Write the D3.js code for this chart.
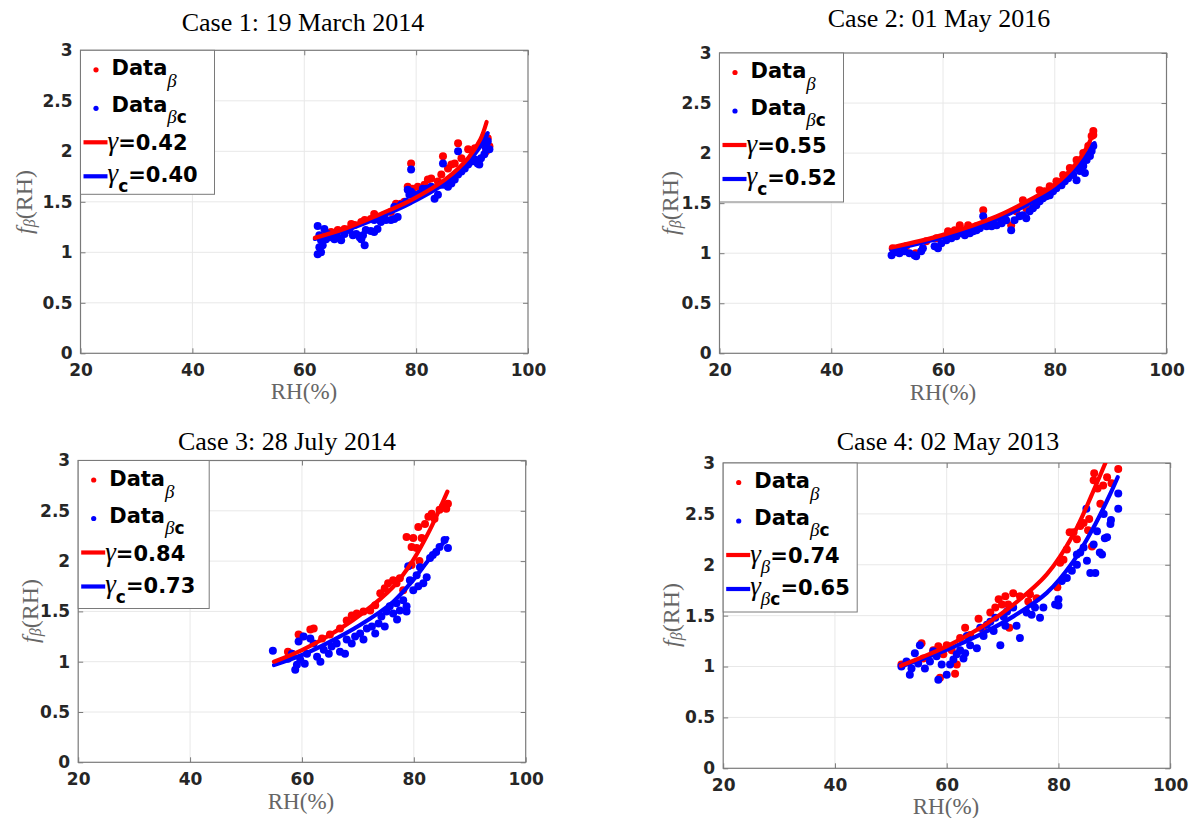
<!DOCTYPE html>
<html><head><meta charset="utf-8">
<script src="https://cdn.jsdelivr.net/npm/d3@7"></script>
<style>body{margin:0;background:#fff} svg{display:block}</style>
</head><body>
<svg id="chart" width="1189" height="818"></svg>
<script>
// ---------------- DATA ----------------
const xTicks=[20,40,60,80,100];
const yTicks=[0,0.5,1,1.5,2,2.5,3];
const yTickLabels=["0","0.5","1","1.5","2","2.5","3"];
const titles=["Case 1: 19 March 2014","Case 2: 01 May 2016","Case 3: 28 July 2014","Case 4: 02 May 2013"];
const gammaRed=["0.42","0.55","0.84","0.74"];
const gammaBlue=["0.40","0.52","0.73","0.65"];
const gammaRedSub=["","","","β"];
const gammaBlueSub=["c","c","c","βc"];

const case1Red=[[63.9,1.18],[64.8,1.2],[65.4,1.18],[66.0,1.22],[67.2,1.23],[68.4,1.28],[69.0,1.27],[70.2,1.3],[70.8,1.32],[71.9,1.33],[72.5,1.38],[73.7,1.35],[74.3,1.37],[75.5,1.4],[76.4,1.48],[77.3,1.48],[77.9,1.5],[78.5,1.65],[79.4,1.63],[80.3,1.65],[81.5,1.67],[82.1,1.72],[82.7,1.73],[83.9,1.7],[84.5,1.77],[85.7,1.83],[86.3,1.87],[86.9,1.88],[88.1,1.93],[89.3,2.02],[90.5,2.03],[91.6,2.07],[92.8,2.13],[93.1,2.05],[92.5,2.0],[79.1,1.88],[84.8,1.95],[87.5,2.08]];
const case1Blue=[[62.4,0.98],[63.0,1.0],[62.7,1.05],[63.3,1.07],[62.4,1.26],[63.6,1.23],[62.7,1.17],[63.0,1.12],[63.6,1.15],[64.2,1.18],[63.9,1.13],[64.8,1.15],[65.4,1.13],[66.0,1.15],[66.6,1.12],[67.2,1.18],[68.1,1.22],[68.7,1.17],[69.3,1.18],[69.9,1.15],[70.5,1.17],[70.8,1.07],[70.2,1.13],[71.0,1.22],[71.9,1.21],[72.5,1.2],[73.1,1.23],[72.5,1.32],[73.7,1.3],[74.6,1.32],[75.5,1.32],[76.1,1.33],[76.7,1.35],[76.1,1.45],[77.3,1.47],[78.2,1.5],[78.8,1.57],[78.5,1.62],[79.1,1.6],[79.7,1.57],[80.6,1.58],[81.2,1.63],[81.8,1.63],[82.7,1.65],[83.3,1.53],[83.9,1.57],[84.5,1.67],[85.1,1.67],[85.7,1.65],[86.3,1.68],[86.9,1.72],[87.5,1.77],[88.1,1.8],[88.7,1.83],[89.3,1.87],[89.9,1.9],[90.5,1.92],[91.0,1.88],[91.3,1.87],[91.6,1.93],[92.2,1.97],[92.5,2.03],[92.8,2.1],[92.2,2.15],[92.5,2.07],[93.1,2.02],[79.1,1.82],[84.8,1.88],[87.5,2.0]];
const case1RedFit=[[61.9,1.143],[67.2,1.233],[73.1,1.367],[79.1,1.517],[85.1,1.717],[89.3,1.933],[91.5,2.12],[92.6,2.29]];
const case1BlueFit=[[61.9,1.133],[67.2,1.215],[73.1,1.34],[79.1,1.49],[85.1,1.683],[89.3,1.9],[91.5,2.05],[92.8,2.18]];

const case2Red=[[51.0,1.05],[53.4,1.07],[55.1,1.0],[57.0,1.12],[58.8,1.15],[60.9,1.22],[62.1,1.23],[63.0,1.28],[64.5,1.28],[66.0,1.27],[67.2,1.43],[68.4,1.32],[70.2,1.35],[72.2,1.28],[73.1,1.42],[74.3,1.53],[74.9,1.45],[76.1,1.5],[77.3,1.63],[78.2,1.62],[79.1,1.67],[80.3,1.72],[81.5,1.78],[82.7,1.85],[83.9,1.93],[85.1,2.0],[86.0,2.07],[86.6,2.17],[86.9,2.22],[86.9,2.18]];
const case2Blue=[[50.8,0.98],[51.3,1.01],[52.2,1.0],[53.1,1.02],[54.0,1.0],[54.9,0.98],[55.2,0.97],[56.1,1.02],[56.4,1.05],[58.5,1.07],[59.1,1.05],[59.7,1.1],[60.6,1.13],[61.5,1.15],[62.4,1.17],[63.0,1.2],[63.9,1.18],[64.8,1.2],[65.4,1.22],[66.0,1.23],[66.6,1.25],[67.2,1.37],[67.8,1.27],[68.7,1.27],[69.6,1.28],[70.5,1.3],[71.3,1.33],[72.2,1.23],[72.8,1.33],[73.7,1.37],[74.3,1.38],[74.9,1.35],[75.5,1.42],[76.1,1.45],[76.7,1.48],[77.3,1.52],[77.9,1.55],[78.5,1.57],[79.1,1.58],[79.7,1.62],[80.3,1.65],[81.2,1.68],[81.8,1.72],[82.4,1.75],[83.3,1.78],[83.9,1.73],[84.5,1.82],[85.1,1.87],[85.4,1.8],[85.7,1.93],[86.3,1.97],[86.6,2.02],[86.9,2.07]];
const case2RedFit=[[50.75,1.057],[60,1.183],[69.55,1.367],[75.52,1.533],[80,1.683],[83.88,1.9],[85.67,2.05],[87.1,2.226]];
const case2BlueFit=[[50.75,1.033],[60,1.16],[69.55,1.333],[75.52,1.5],[80,1.65],[83.88,1.85],[85.67,1.98],[87.1,2.1]];

const case3Red=[[58.2,1.08],[57.5,1.1],[59.4,1.27],[60.0,1.25],[61.5,1.32],[62.1,1.33],[63.6,1.23],[65.0,1.27],[66.8,1.33],[68.0,1.41],[68.9,1.46],[69.8,1.48],[71.0,1.5],[72.2,1.51],[73.1,1.56],[74.0,1.68],[74.8,1.73],[75.4,1.78],[76.3,1.81],[76.9,1.78],[77.5,1.83],[78.1,1.71],[78.7,2.24],[79.6,2.14],[79.9,2.23],[80.5,2.13],[80.8,2.34],[81.4,2.23],[82.0,2.37],[82.6,2.44],[83.2,2.47],[83.7,2.42],[84.6,2.51],[85.2,2.54],[85.8,2.52],[86.1,2.57],[79.6,1.96],[81.0,2.0]];
const case3Blue=[[54.8,1.11],[57.5,1.03],[58.2,1.08],[58.8,0.92],[59.1,0.97],[59.7,1.02],[60.5,0.98],[59.4,1.2],[60.3,1.25],[61.5,1.23],[62.1,1.18],[60.9,1.08],[62.7,1.05],[63.3,1.0],[63.9,1.12],[64.8,1.08],[65.3,1.15],[66.2,1.18],[66.8,1.1],[67.7,1.08],[68.0,1.22],[68.9,1.18],[69.5,1.25],[70.4,1.28],[71.0,1.22],[71.6,1.33],[72.5,1.35],[73.1,1.28],[73.7,1.38],[74.2,1.45],[74.8,1.35],[75.1,1.5],[75.7,1.55],[76.3,1.48],[76.9,1.58],[77.5,1.51],[78.1,1.61],[78.7,1.55],[78.7,1.5],[79.3,1.81],[79.9,1.71],[80.5,1.86],[81.1,1.94],[81.7,1.78],[82.3,1.84],[82.9,2.03],[83.4,2.06],[84.0,2.09],[84.6,2.14],[85.5,2.21],[86.1,2.13],[79.0,1.95],[80.8,1.75],[77.0,1.42]];
const case3RedFit=[[55,1.0],[60,1.116],[64.45,1.248],[70.39,1.464],[76.32,1.745],[79.88,2.01],[82.85,2.308],[86.0,2.69]];
const case3BlueFit=[[55,0.967],[60,1.066],[64.45,1.182],[70.39,1.364],[76.32,1.596],[79.88,1.811],[82.85,2.026],[86.0,2.227]];

const case4Red=[[51.9,1.02],[55.5,1.23],[55.8,1.08],[57.6,1.16],[58.5,1.2],[59.4,1.12],[60.0,1.21],[60.9,1.16],[61.8,1.02],[61.5,0.93],[58.8,0.89],[62.4,1.28],[63.3,1.38],[64.2,1.31],[65.7,1.47],[66.6,1.35],[67.8,1.53],[68.7,1.58],[69.3,1.66],[69.9,1.61],[70.5,1.69],[71.0,1.61],[71.9,1.72],[73.1,1.69],[74.6,1.64],[74.9,1.71],[76.1,1.67],[71.2,1.38],[80.3,2.02],[80.9,2.05],[82.0,2.32],[82.7,2.32],[83.3,2.25],[83.9,2.38],[84.5,2.41],[85.3,2.34],[85.5,2.45],[86.0,2.18],[86.4,2.9],[86.3,2.83],[87.0,2.75],[87.5,2.6],[88.0,2.78],[88.7,2.86],[89.5,2.8],[90.7,2.94],[79.8,1.78],[81.5,2.15]];
const case4Blue=[[51.9,1.0],[52.8,1.05],[53.7,0.98],[53.4,0.92],[54.3,1.13],[55.2,1.21],[54.9,1.03],[56.1,0.98],[57.0,1.05],[57.6,1.15],[58.2,1.1],[58.5,0.87],[59.1,1.02],[60.0,0.92],[60.6,1.02],[61.2,1.07],[61.8,1.12],[62.4,1.16],[63.0,1.08],[63.3,1.13],[63.6,1.3],[64.2,1.21],[65.4,1.18],[66.0,1.38],[66.6,1.3],[67.2,1.41],[67.8,1.44],[68.4,1.35],[68.7,1.48],[69.6,1.21],[70.2,1.49],[70.5,1.4],[70.8,1.54],[71.9,1.58],[72.5,1.4],[73.1,1.28],[74.3,1.53],[75.2,1.51],[75.8,1.58],[76.7,1.48],[77.3,1.58],[79.4,1.61],[80.0,1.66],[80.6,1.84],[81.5,1.87],[82.4,1.94],[83.3,2.0],[83.9,2.12],[84.5,2.17],[85.1,2.04],[85.7,1.92],[86.6,1.92],[86.3,2.2],[86.9,2.33],[87.8,2.1],[88.1,2.5],[88.7,2.27],[89.3,2.4],[85.0,2.55],[90.7,2.7],[90.7,2.55],[89.4,2.44],[88.3,2.26],[87.4,2.12],[80.0,1.6],[83.3,2.1]];
const case4RedFit=[[51.8,1.007],[60,1.197],[65.97,1.378],[71.94,1.609],[77.91,1.905],[82.69,2.3],[86.27,2.727],[88.4,3.0]];
const case4BlueFit=[[51.8,1.0],[60,1.164],[65.97,1.313],[71.94,1.493],[77.91,1.724],[82.69,2.036],[86.27,2.365],[89.25,2.694],[90.6,2.86]];

const redData=[case1Red,case2Red,case3Red,case4Red];
const blueData=[case1Blue,case2Blue,case3Blue,case4Blue];
const redFits=[case1RedFit,case2RedFit,case3RedFit,case4RedFit];
const blueFits=[case1BlueFit,case2BlueFit,case3BlueFit,case4BlueFit];

// ---------------- LAYOUT ----------------
const layout=[
 {x0:80.5,x1:528,y0:50.3,y1:353.3, tx:303,ty:31, xlx:304,xly:399, ylx:24,yly:202, lw:134,lh:144},
 {x0:719.5,x1:1166.5,y0:53,y1:353.3, tx:939,ty:27, xlx:943,xly:400, ylx:670,yly:203, lw:124,lh:149},
 {x0:78.2,x1:525.7,y0:460.5,y1:762.3, tx:287,ty:450, xlx:301,xly:809, ylx:30,yly:611, lw:131,lh:148},
 {x0:723.2,x1:1170.2,y0:463,y1:768.3, tx:948,ty:450, xlx:946,xly:814, ylx:671,yly:615, lw:134,lh:149}
];
const RED="#ff0000", BLUE="#0000ff", AXC="#7a7a7a", GRID="#e8e8e8";
const SANS="'DejaVu Sans', sans-serif", SERIF="'Liberation Serif','Times New Roman',serif";

const svg=d3.select("#chart");
svg.append("rect").attr("width",1189).attr("height",818).attr("fill","#fff");

layout.forEach((L,i)=>{
  const x=d3.scaleLinear().domain([20,100]).range([L.x0,L.x1]);
  const y=d3.scaleLinear().domain([0,3]).range([L.y1,L.y0]);
  const g=svg.append("g");
  const clipId="clip"+i;
  g.append("clipPath").attr("id",clipId).append("rect")
    .attr("x",L.x0).attr("y",L.y0).attr("width",L.x1-L.x0).attr("height",L.y1-L.y0);

  // grid
  g.append("g").selectAll("line").data(xTicks.slice(1,-1)).join("line")
    .attr("x1",d=>x(d)).attr("x2",d=>x(d)).attr("y1",L.y0).attr("y2",L.y1)
    .attr("stroke",GRID).attr("stroke-width",1);
  g.append("g").selectAll("line").data(yTicks.slice(1,-1)).join("line")
    .attr("y1",d=>y(d)).attr("y2",d=>y(d)).attr("x1",L.x0).attr("x2",L.x1)
    .attr("stroke",GRID).attr("stroke-width",1);

  // axes
  const ax=g.append("g").attr("transform",`translate(0,${L.y1})`)
    .call(d3.axisBottom(x).tickValues(xTicks).tickSize(-5).tickPadding(11));
  const ay=g.append("g").attr("transform",`translate(${L.x0},0)`)
    .call(d3.axisLeft(y).tickValues(yTicks).tickFormat((d,k)=>yTickLabels[k]).tickSize(-5).tickPadding(8));
  const at=g.append("g").attr("transform",`translate(0,${L.y0})`)
    .call(d3.axisTop(x).tickValues(xTicks).tickSize(-5).tickFormat(""));
  const ar=g.append("g").attr("transform",`translate(${L.x1},0)`)
    .call(d3.axisRight(y).tickValues(yTicks).tickSize(-5).tickFormat(""));
  [ax,ay,at,ar].forEach(a=>{
    a.select(".domain").remove();
    a.selectAll(".tick line").attr("stroke",AXC);
    a.selectAll(".tick text").attr("font-family",SANS).attr("font-weight","bold")
      .attr("font-size",17).attr("fill","#262626");
  });
  g.append("rect").attr("x",L.x0).attr("y",L.y0).attr("width",L.x1-L.x0).attr("height",L.y1-L.y0)
    .attr("fill","none").attr("stroke",AXC).attr("stroke-width",1.2);

  // data
  const dg=g.append("g").attr("clip-path",`url(#${clipId})`);
  dg.append("g").selectAll("circle").data(redData[i]).join("circle")
    .attr("cx",d=>x(d[0])).attr("cy",d=>y(d[1])).attr("r",4).attr("fill",RED);
  dg.append("g").selectAll("circle").data(blueData[i]).join("circle")
    .attr("cx",d=>x(d[0])).attr("cy",d=>y(d[1])).attr("r",4).attr("fill",BLUE);
  const line=d3.line().x(d=>x(d[0])).y(d=>y(d[1])).curve(d3.curveCatmullRom.alpha(0.5));
  dg.append("path").datum(blueFits[i]).attr("d",line).attr("fill","none")
    .attr("stroke",BLUE).attr("stroke-width",4.2).attr("stroke-linecap","round");
  dg.append("path").datum(redFits[i]).attr("d",line).attr("fill","none")
    .attr("stroke",RED).attr("stroke-width",4.2).attr("stroke-linecap","round");

  // title
  g.append("text").attr("x",L.tx).attr("y",L.ty).attr("text-anchor","middle")
    .attr("font-family",SERIF).attr("font-size",26).attr("fill","#000").text(titles[i]);
  // x label
  g.append("text").attr("x",L.xlx).attr("y",L.xly).attr("text-anchor","middle")
    .attr("font-family",SERIF).attr("font-size",23).attr("fill","#666").text("RH(%)");
  // y label
  const yl=g.append("text").attr("transform",`translate(${L.ylx},${L.yly}) rotate(-90)`)
    .attr("text-anchor","middle").attr("dominant-baseline","central")
    .attr("font-family",SERIF).attr("font-size",24).attr("fill","#666");
  yl.append("tspan").attr("font-style","italic").text("f");
  yl.append("tspan").attr("font-style","italic").attr("font-size",16).attr("dy",5).text("β");
  yl.append("tspan").attr("dy",-5).text("(RH)");

  // legend
  const lg=g.append("g").attr("transform",`translate(${L.x0},${L.y0})`);
  lg.append("rect").attr("width",L.lw).attr("height",L.lh).attr("fill","#fff")
    .attr("stroke",AXC).attr("stroke-width",1);
  lg.append("circle").attr("cx",15.5).attr("cy",19.5).attr("r",2.6).attr("fill",RED);
  lg.append("circle").attr("cx",15.5).attr("cy",58).attr("r",2.6).attr("fill",BLUE);
  const t1=lg.append("text").attr("x",31).attr("y",25).attr("font-family",SANS)
    .attr("font-weight","bold").attr("font-size",21).attr("fill","#000");
  t1.append("tspan").text("Data");
  t1.append("tspan").attr("dy",12).attr("font-family",SERIF).attr("font-style","italic")
    .attr("font-weight","normal").attr("font-size",19).text("β");
  const t2=lg.append("text").attr("x",31).attr("y",62).attr("font-family",SANS)
    .attr("font-weight","bold").attr("font-size",21).attr("fill","#000");
  t2.append("tspan").text("Data");
  t2.append("tspan").attr("dy",11).attr("font-family",SERIF).attr("font-style","italic")
    .attr("font-weight","normal").attr("font-size",19).text("β");
  t2.append("tspan").attr("font-size",17).text("c");

  lg.append("line").attr("x1",3).attr("x2",27).attr("y1",92).attr("y2",92)
    .attr("stroke",RED).attr("stroke-width",4.2);
  lg.append("line").attr("x1",3).attr("x2",27).attr("y1",126).attr("y2",126)
    .attr("stroke",BLUE).attr("stroke-width",4.2);

  function gammaText(yb,sub,val){
    const t=lg.append("text").attr("x",27).attr("y",yb).attr("font-family",SANS)
      .attr("font-weight","bold").attr("font-size",21).attr("fill","#000");
    t.append("tspan").attr("font-family",SERIF).attr("font-style","italic")
      .attr("font-weight","normal").attr("font-size",27).text("γ");
    let dy=0;
    if(sub){
      dy=10;
      [...sub].forEach((ch,k)=>{
        const s=t.append("tspan").attr("dy",k===0?dy:0);
        if(ch==="β") s.attr("font-family",SERIF).attr("font-style","italic").attr("font-weight","normal").attr("font-size",19);
        else s.attr("font-size",17);
        s.text(ch);
      });
    }
    t.append("tspan").attr("dy",-dy).text("="+val);
  }
  gammaText(100,gammaRedSub[i],gammaRed[i]);
  gammaText(132,gammaBlueSub[i],gammaBlue[i]);
});
</script>
</body></html>
